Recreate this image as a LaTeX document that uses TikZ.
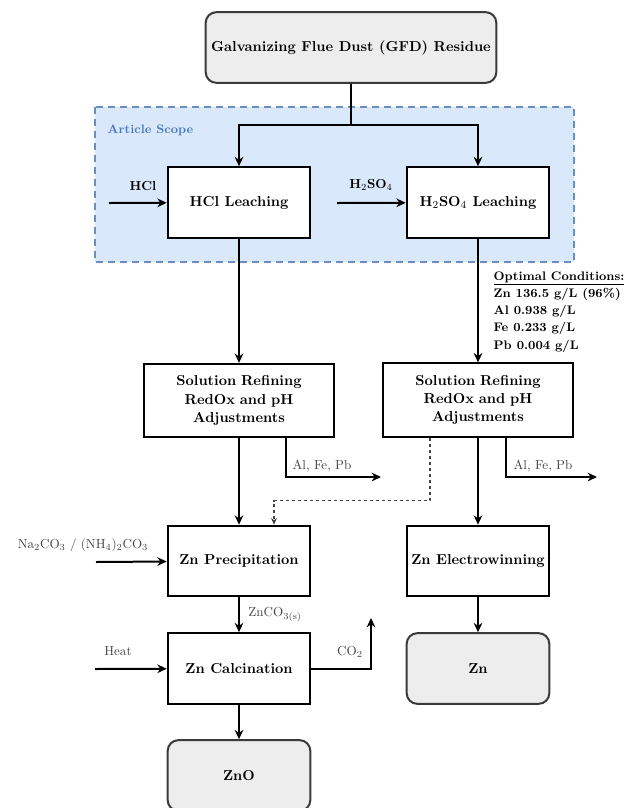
\documentclass[tikz,border=0pt]{standalone}
\usepackage{amsmath}
\usepackage{xcolor}
\usepackage{tikz}
\usetikzlibrary{positioning,shapes.geometric,arrows.meta,calc}

\definecolor{scopefill}{HTML}{DAE8FC}
\definecolor{scopeedge}{HTML}{6C8EBF}
\definecolor{scopetext}{HTML}{4A78BE}
\definecolor{endfill}{HTML}{EDEDED}
\definecolor{endedge}{HTML}{3A3A3A}
\definecolor{labgray}{HTML}{444444}

\begin{document}
\begin{tikzpicture}[
    x=0.75pt, y=-0.75pt,
    proc/.style={rectangle, draw, line width=1.5pt, fill=white, minimum width=107pt, minimum height=53pt, font=\bfseries\fontsize{10.8}{13}\selectfont, align=center},
    refine/.style={proc, minimum width=143pt, minimum height=55pt, text width=135pt, font=\bfseries\fontsize{10.8}{13.6}\selectfont},
    endbox/.style={proc, rounded corners=8pt, fill=endfill, draw=endedge},
    gfdbox/.style={endbox, minimum width=218pt},
    scopebox/.style={draw=scopeedge, fill=scopefill, dash pattern=on 5pt off 4pt, line width=1.2pt},
    flow/.style={-{Stealth[length=7pt,width=6.5pt]}, line width=1.5pt},
    dotflow/.style={-{Stealth[length=5pt,width=4.5pt]}, draw=labgray, line width=1pt, dash pattern=on 2.5pt off 2pt},
    inlabel/.style={font=\bfseries\fontsize{9.8}{11}\selectfont},
    sidelabel/.style={text=labgray, font=\fontsize{9.8}{11}\selectfont}
]
\clip (0,0) rectangle (627,808);

% article scope
\draw[scopebox] (95,107) rectangle (574,262);
\node[anchor=west, text=scopetext, font=\bfseries\fontsize{9.2}{10}\selectfont] (scopelbl) at (103,130) {Article Scope};

% process boxes
\node[gfdbox] (gfd) at (351,47.5) {Galvanizing Flue Dust (GFD) Residue};
\node[proc] (hcl) at (239,202.5) {HCl Leaching};
\node[proc] (hso) at (478,202.5) {H$_2$SO$_4$ Leaching};
\node[refine] (refL) at (239,400.5) {Solution Refining\\RedOx and pH\\Adjustments};
\node[refine] (refR) at (478,400) {Solution Refining\\RedOx and pH\\Adjustments};
\node[proc] (prec) at (239,561) {Zn Precipitation};
\node[proc] (ewin) at (478,561) {Zn Electrowinning};
\node[proc] (calc) at (239,668.5) {Zn Calcination};
\node[endbox] (zn) at (478,668.5) {Zn};
\node[endbox] (zno) at (239,775.5) {ZnO};

% free ends
\coordinate (split) at (351,125);
\coordinate (hclin) at (109,203);
\coordinate (hsoin) at (337,203);
\coordinate (wasteL) at (381,477);
\coordinate (wasteR) at (597,477);
\coordinate (carbin) at (96,562);
\coordinate (heatin) at (95,669);
\coordinate (co2out) at (371,618);

% split to both leaching routes
\draw[line width=1.5pt] (gfd) -- (split);
\draw[flow] (split) -| (hcl);
\draw[flow] (split) -| (hso);

% reagents
\draw[flow] (hclin) -- (hcl);
\node[inlabel] (hcllbl) at (143,186) {HCl};
\draw[flow] (hsoin) -- (hso);
\node[inlabel] (hsolbl) at (371,185) {H$_2$SO$_4$};

% leaching to refining
\draw[flow] (hcl) -- (refL);
\draw[flow] (hso) -- (refR);
\node[anchor=north west, align=left, font=\bfseries\fontsize{9.3}{12.9}\selectfont] (optcond) at (489,267)
    {\underline{Optimal Conditions:}\\Zn 136.5 g/L (96\%)\\Al 0.938 g/L\\Fe 0.233 g/L\\Pb 0.004 g/L};

% impurities out
\draw[flow] ($(refL.south)+(47,0)$) |- (wasteL);
\node[sidelabel] (wasteLlbl) at (322,466) {Al, Fe, Pb};
\draw[flow] ($(refR.south)+(28,0)$) |- (wasteR);
\node[sidelabel] (wasteRlbl) at (543,466) {Al, Fe, Pb};

% refining to recovery
\draw[flow] (refL) -- (prec);
\draw[flow] (refR) -- (ewin);
\draw[dotflow] ($(refR.south)+(-48,0)$) |- ($(prec.north)+(35,-24)$) -- ($(prec.north)+(35,0)$);

% precipitation
\draw[flow] (carbin) -- (prec);
\node[sidelabel] (carblbl) at (83,545) {Na$_2$CO$_3$ / (NH$_4$)$_2$CO$_3$};
\draw[flow] (prec) -- (calc) node[midway, right=3pt, sidelabel] (znco3) {ZnCO$_{3(\mathrm{s})}$};

% calcination
\draw[flow] (heatin) -- (calc);
\node[sidelabel] (heatlbl) at (118,651) {Heat};
\draw[flow] (calc.east) -| (co2out);
\node[sidelabel] (co2lbl) at (350,652) {CO$_2$};
\draw[flow] (calc) -- (zno);
\draw[flow] (ewin) -- (zn);

\end{tikzpicture}
\end{document}
